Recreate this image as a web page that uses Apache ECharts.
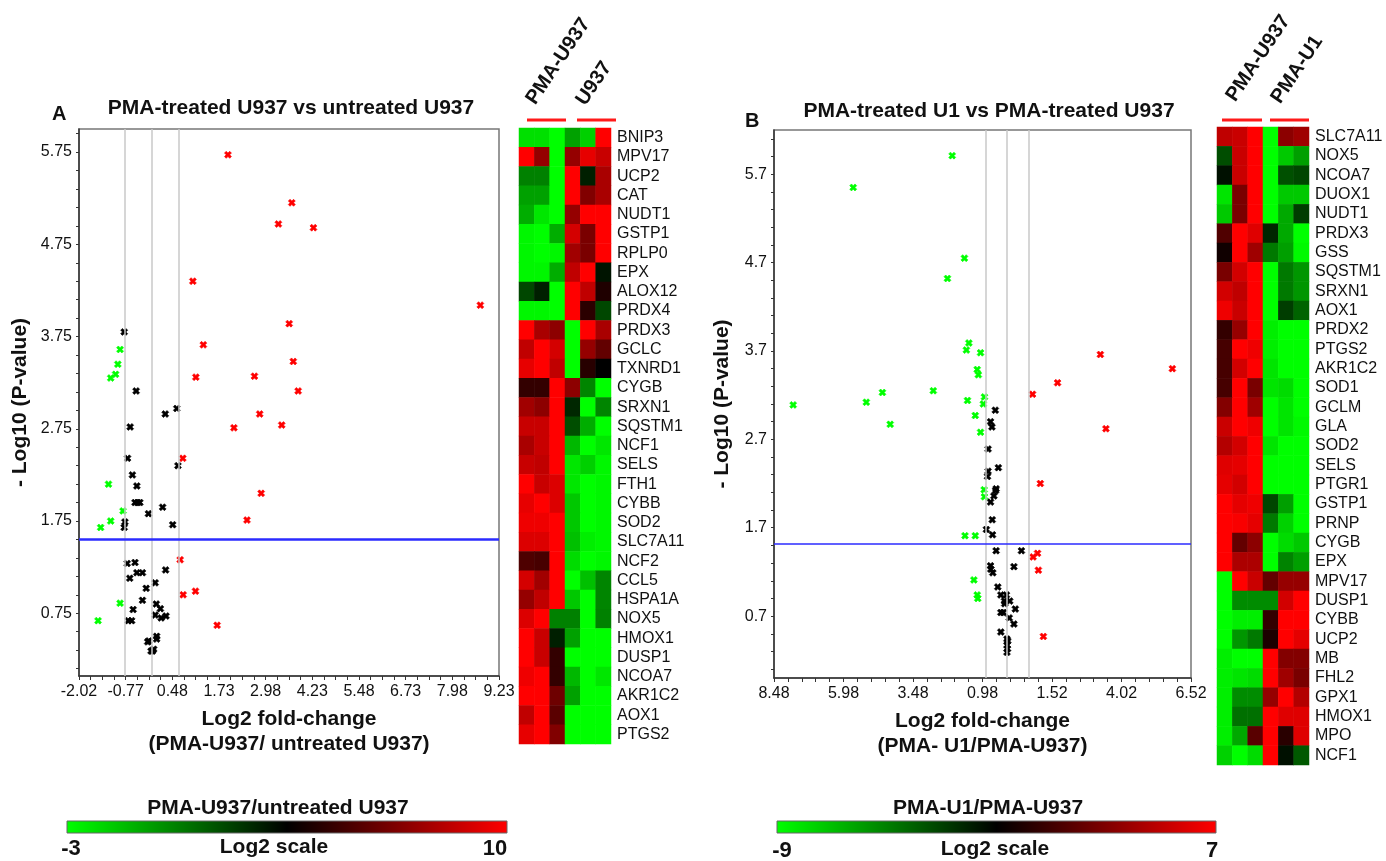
<!DOCTYPE html>
<html>
<head>
<meta charset="utf-8">
<script src="https://cdn.jsdelivr.net/npm/echarts@6/dist/echarts.min.js"></script>
<style>
  html, body { margin: 0; padding: 0; background: #fff; }
  #main { width: 1386px; height: 861px; }
</style>
</head>
<body>
<div id="main"></div>
<script>
// ---- panel A: volcano, PMA-U937 vs untreated U937 ----
var upA = [[1.97,5.72],[3.68,5.20],[3.32,4.97],[4.26,4.93],[1.03,4.35],[8.73,4.09],[3.61,3.89],
  [1.31,3.66],[3.72,3.48],[1.11,3.31],[2.68,3.32],[3.85,3.16],[2.82,2.91],[3.41,2.79],[2.13,2.76],
  [0.76,2.43],[2.86,2.05],[2.48,1.76],[0.69,1.33],[1.10,0.99],[0.77,0.95],[1.68,0.62]];
var downA = [[-0.92,3.61],[-0.98,3.45],[-1.04,3.34],[-1.17,3.30],[-1.23,2.15],[-0.84,1.86],
  [-1.17,1.75],[-1.44,1.68],[-0.92,0.86],[-1.51,0.67]];
var nsA = [[-0.81,3.80],[-0.49,3.16],[0.60,2.97],[0.29,2.91],[-0.65,2.77],[-0.72,2.43],[0.63,2.35],
  [-0.59,2.25],[-0.47,2.13],[-0.52,1.95],[-0.45,1.95],[-0.39,1.95],[0.22,1.90],[-0.16,1.83],
  [-0.79,1.74],[-0.81,1.68],[0.49,1.71],[-0.73,1.29],[-0.52,1.30],[-0.66,1.13],[-0.47,1.19],
  [-0.32,1.19],[0.30,1.22],[0.02,1.08],[-0.22,1.02],[-0.32,0.89],[0.05,0.85],[0.16,0.80],
  [-0.57,0.79],[0.02,0.73],[0.31,0.72],[0.18,0.70],[-0.70,0.67],[-0.61,0.67],[0.06,0.50],
  [0.06,0.47],[-0.15,0.45],[-0.18,0.44],[-0.02,0.36],[-0.09,0.34],[-0.05,0.34]];
var xLabelsA = [-2.02,-0.77,0.48,1.73,2.98,4.23,5.48,6.73,7.98,9.23];
var yLabelsA = [0.75,1.75,2.75,3.75,4.75,5.75];
var foldLinesA = [-0.8,-0.08,0.65];
var pLineA = 1.55;

// ---- panel B: volcano, PMA-U1 vs PMA-U937 ----
var upB = [[3.26,3.66],[5.85,3.50],[1.72,3.34],[0.82,3.21],[3.46,2.82],[1.10,2.20],[1.00,1.41],
  [0.84,1.37],[1.03,1.22],[1.21,0.47]];
var downB = [[-2.07,5.91],[-5.63,5.55],[-1.63,4.75],[-2.24,4.52],[-1.47,3.79],[-1.56,3.71],
  [-1.05,3.68],[-1.17,3.49],[-1.13,3.43],[-4.58,3.23],[-2.75,3.25],[-0.91,3.18],[-5.16,3.12],
  [-1.52,3.14],[-0.95,3.10],[-7.79,3.09],[-1.24,2.97],[-4.30,2.87],[-1.05,2.78],[-0.92,2.13],
  [-0.91,2.05],[-1.61,1.61],[-1.24,1.61],[-1.29,1.11],[-1.17,0.94],[-1.15,0.90]];
var nsB = [[-0.52,3.03],[-0.69,2.90],[-0.64,2.84],[-0.78,2.59],[-0.41,2.38],[-0.78,2.34],
  [-0.80,2.28],[-0.49,2.14],[-0.51,2.12],[-0.57,2.06],[-0.69,1.99],[-0.63,1.79],[-0.84,1.68],
  [-0.62,1.62],[-0.49,1.44],[0.42,1.44],[-0.69,1.27],[-0.68,1.23],[-0.61,1.19],[0.15,1.26],
  [-0.43,1.03],[-0.32,0.94],[-0.12,0.94],[-0.19,0.87],[-0.18,0.84],[0.00,0.87],[0.20,0.78],
  [-0.32,0.74],[-0.23,0.74],[-0.02,0.68],[0.15,0.61],[-0.32,0.52],[-0.10,0.44],[-0.07,0.42],
  [-0.10,0.37],[-0.08,0.33],[-0.10,0.29]];
var xLabelsB = [-8.48,-5.98,-3.48,-0.98,1.52,4.02,6.52];
var yLabelsB = [0.7,1.7,2.7,3.7,4.7,5.7];
var foldLinesB = [-0.85,-0.09,0.69];
var pLineB = 1.52;

// ---- heatmaps ----
var samples = ['1','2','3','4','5','6'];
var genesA = ['BNIP3','MPV17','UCP2','CAT','NUDT1','GSTP1','RPLP0','EPX','ALOX12','PRDX4','PRDX3',
  'GCLC','TXNRD1','CYGB','SRXN1','SQSTM1','NCF1','SELS','FTH1','CYBB','SOD2','SLC7A11','NCF2',
  'CCL5','HSPA1A','NOX5','HMOX1','DUSP1','NCOA7','AKR1C2','AOX1','PTGS2'];
var heatA = [
  [-2.2,-2.2,-3,-0.6,-1.8,10],
  [10,7.3,-3,7.3,9.4,8.6],
  [0.2,0.2,-3,10,2.7,7.8],
  [-0.6,-0.6,-3,10,6.8,7.8],
  [-0.9,-2.4,-3,7.3,10,10],
  [-2.8,-3,-0.9,8.9,6.6,10],
  [-2.8,-3,-2.8,7.6,6.6,10],
  [-2.8,-2.8,-0.9,8.4,10,3],
  [1.7,2.7,-3,10,8.4,4.3],
  [-2.8,-2.8,-3,10,4.6,1.7],
  [10,7.8,7.1,-3,10,7.8],
  [8.4,10,8.9,-3,7.3,6.0],
  [9.4,10,8.4,-3,4.5,3.5],
  [4.8,4.8,10,7.1,0.1,-3],
  [7.6,7.1,10,2.5,-3,0.1],
  [8.6,8.6,10,1.5,-0.9,-3],
  [7.8,8.6,10,-1.2,-3,-2.4],
  [8.6,8.4,10,-2.4,-1.8,-2.8],
  [10,8.6,9.1,-2.4,-3,-2.8],
  [9.4,10,9.1,-1.6,-3,-2.8],
  [9.6,9.6,10,-1.6,-3,-2.8],
  [9.1,9.1,10,-1.4,-2.6,-2.8],
  [5.5,5.3,10,-2.1,-3,-2.8],
  [8.9,7.6,10,-3,-1.4,0.1],
  [7.3,8.4,10,-1.6,-3,0.1],
  [9.1,10,0.2,0.2,-3,0.2],
  [10,8.6,2.7,-0.6,-3,-3],
  [10,8.6,4.8,-3,-3,-3],
  [9.6,10,4.8,-1.2,-3,-2.4],
  [10,10,6.3,-0.6,-3,-3],
  [8.4,10,5.8,-3,-3,-3],
  [9.4,10,6.8,-3,-3,-3]
];
var genesB = ['SLC7A11','NOX5','NCOA7','DUOX1','NUDT1','PRDX3','GSS','SQSTM1','SRXN1','AOX1',
  'PRDX2','PTGS2','AKR1C2','SOD1','GCLM','GLA','SOD2','SELS','PTGR1','GSTP1','PRNP','CYGB','EPX',
  'MPV17','DUSP1','CYBB','UCP2','MB','FHL2','GPX1','HMOX1','MPO','NCF1'];
var heatB = [
  [5,5.3,7,-9,3.4,4],
  [-3.4,5.3,7,-9,-7.3,-6],
  [-1.5,5.3,7,-9,-3.5,-3.2],
  [-8.2,2.8,7,-9,-7.3,-7.3],
  [-7.3,2.8,7,-9,-6.3,-2.9],
  [1.5,7,6,-2.2,-6.3,-9],
  [-0.5,7,4,-4.8,-6,-8.8],
  [2.8,5.6,7,-9,-4.8,-5.7],
  [5.6,5,7,-9,-4.8,-5.7],
  [6.5,5.3,7,-9,-2.9,-4.1],
  [0.6,3.7,7,-8.5,-9,-9],
  [1.2,7,6.5,-8.5,-9,-9],
  [1.2,5.6,7,-8.2,-9,-9],
  [1.2,7,2.8,-8.2,-7.9,-9],
  [3.1,7,4,-9,-8.2,-9],
  [5.3,7,6.5,-9,-8.2,-8.8],
  [4.6,5.6,7,-8.2,-9,-9],
  [6,6.2,7,-9,-9,-9],
  [6.2,5.6,7,-9,-9,-9],
  [7,6.2,6.5,-3.2,-6,-9],
  [7,6.8,6.2,-4.8,-7.6,-9],
  [7,2.1,3.4,-9,-7.9,-7.3],
  [7,4.4,4.4,-9,-5.1,-6],
  [-9,7,5.3,2.1,3.7,3.7],
  [-9,-5.4,-5.4,-5.4,5.6,7],
  [-9,-8.5,-8.5,0.6,7,7],
  [-9,-5.7,-4.8,-0.1,7,6.2],
  [-8.5,-9,-9,7,3.1,3.1],
  [-8.5,-8.2,-7.9,7,4,2.8],
  [-8.5,-5.4,-5.4,3.7,7,4.6],
  [-8.5,-4.5,-4.5,7,6,6],
  [-8.5,-6.3,1.8,7,0.3,6],
  [-7.6,-9,-7.9,7,-1.5,-3.8]
];
var rangeA = [-3, 10];
var rangeB = [-9, 7];

function cells(matrix) {
  var out = [];
  matrix.forEach(function (row, r) {
    row.forEach(function (v, c) { out.push([c, r, v]); });
  });
  return out;
}
function steps(from, to, step) {
  var out = [];
  for (var v = from; v <= to + 1e-9; v += step) out.push(Math.round(v * 10000) / 10000);
  return out;
}

var FONT = '"Liberation Sans", Arial, Helvetica, sans-serif';
// small asterisk-like marker, as in the original plots
var STAR = 'path://M0,2.5L2.5,0L5,2.5L7.5,0L10,2.5L7.5,5L10,7.5L7.5,10L5,7.5L2.5,10L0,7.5L2.5,5Z';
var GYR = ['#00ff00', '#000000', '#ff0000'];

function valueX(gridIndex, min, max, labels, ticks, fmt, name) {
  return {
    type: 'value', gridIndex: gridIndex, min: min, max: max,
    splitLine: { show: false },
    axisLine: { onZero: false, lineStyle: { color: '#333', width: 1.5 } },
    axisTick: { show: true, length: 4, customValues: ticks, lineStyle: { color: '#333' } },
    axisLabel: { customValues: labels, formatter: fmt, fontSize: 16, color: '#111', margin: 8, fontFamily: FONT },
    name: name, nameLocation: 'middle', nameGap: 31,
    nameTextStyle: { fontSize: 21, fontWeight: 'bold', color: '#111', lineHeight: 25, fontFamily: FONT }
  };
}
function valueY(gridIndex, min, max, labels, ticks, gap) {
  return {
    type: 'value', gridIndex: gridIndex, min: min, max: max,
    splitLine: { show: false },
    axisLine: { onZero: false, lineStyle: { color: '#333', width: 1.5 } },
    axisTick: { show: true, length: 3, customValues: ticks, lineStyle: { color: '#333' } },
    axisLabel: { customValues: labels, fontSize: 16, color: '#111', margin: 7, fontFamily: FONT },
    name: '- Log10 (P-value)', nameLocation: 'middle', nameGap: gap,
    nameTextStyle: { fontSize: 21, fontWeight: 'bold', color: '#111', fontFamily: FONT }
  };
}
function pts(gridIndex, data, color) {
  return {
    type: 'scatter', xAxisIndex: gridIndex, yAxisIndex: gridIndex, data: data,
    symbol: STAR, symbolSize: 7, z: 3,
    itemStyle: { color: color, opacity: 1, borderColor: color, borderWidth: 0.6 }
  };
}
function guides(gridIndex, folds, pval, blueWidth) {
  var lines = folds.map(function (v) { return { xAxis: v }; });
  lines.push({ yAxis: pval, lineStyle: { color: '#2b2bff', width: blueWidth, type: 'solid' } });
  return {
    type: 'line', xAxisIndex: gridIndex, yAxisIndex: gridIndex, data: [], z: 1,
    markLine: {
      silent: true, symbol: 'none', animation: false,
      label: { show: false },
      lineStyle: { color: '#c8c8c8', width: 1.5, type: 'solid' },
      data: lines
    }
  };
}
function heatAxes(gridIndex, genes) {
  return {
    x: { type: 'category', gridIndex: gridIndex, data: samples, show: false },
    y: { type: 'category', gridIndex: gridIndex, data: genes, inverse: true, position: 'right',
      axisLine: { show: false }, axisTick: { show: false },
      axisLabel: { interval: 0, fontSize: 16, color: '#111', margin: 6, fontFamily: FONT } }
  };
}
var hA = heatAxes(1, genesA), hB = heatAxes(3, genesB);

var chart = echarts.init(document.getElementById('main'));

var option = {
  backgroundColor: '#fff',
  animation: false,
  textStyle: { fontFamily: FONT },
  title: [
    { text: 'PMA-treated U937 vs untreated U937', left: 286, top: 93, textAlign: 'center',
      textStyle: { fontSize: 21, fontWeight: 'bold', color: '#111', fontFamily: FONT } },
    { text: 'PMA-treated U1 vs PMA-treated U937', left: 984, top: 96, textAlign: 'center',
      textStyle: { fontSize: 21, fontWeight: 'bold', color: '#111', fontFamily: FONT } }
  ],
  grid: [
    { left: 79, top: 129, width: 420, height: 547, show: true, borderColor: '#777', borderWidth: 1.5 },
    { left: 519, top: 128, width: 92, height: 616 },
    { left: 774, top: 130, width: 417, height: 548, show: true, borderColor: '#777', borderWidth: 1.5 },
    { left: 1217, top: 127, width: 92, height: 638 }
  ],
  xAxis: [
    valueX(0, -2.02, 9.23, xLabelsA, steps(-2.02, 9.23, 0.3125), null,
      'Log2 fold-change\n(PMA-U937/ untreated U937)'),
    hA.x,
    valueX(2, -8.48, 6.52, xLabelsB, steps(-8.48, 6.52, 0.5),
      function (v) { return Math.abs(v).toFixed(2); },
      'Log2 fold-change\n(PMA- U1/PMA-U937)'),
    hB.x
  ],
  yAxis: [
    valueY(0, 0.07, 6.0, yLabelsA, steps(0.15, 5.95, 0.2), 48),
    hA.y,
    valueY(2, 0, 6.2, yLabelsB, steps(0.1, 6.1, 0.2), 41),
    hB.y
  ],
  visualMap: [
    { show: false, seriesIndex: 4, min: rangeA[0], max: rangeA[1], inRange: { color: GYR } },
    { show: false, seriesIndex: 9, min: rangeB[0], max: rangeB[1], inRange: { color: GYR } }
  ],
  series: [
    guides(0, foldLinesA, pLineA, 2.5),
    pts(0, nsA, '#000000'),
    pts(0, downA, '#00ff00'),
    pts(0, upA, '#ff0000'),
    { type: 'heatmap', xAxisIndex: 1, yAxisIndex: 1, data: cells(heatA), itemStyle: { borderWidth: 0 } },
    guides(2, foldLinesB, pLineB, 1.5),
    pts(2, nsB, '#000000'),
    pts(2, downB, '#00ff00'),
    pts(2, upB, '#ff0000'),
    { type: 'heatmap', xAxisIndex: 3, yAxisIndex: 3, data: cells(heatB), itemStyle: { borderWidth: 0 } }
  ],
  graphic: [
    { type: 'text', left: 52, top: 104, style: { text: 'A', font: 'bold 20px ' + FONT, fill: '#111' } },
    { type: 'text', left: 745, top: 111, style: { text: 'B', font: 'bold 20px ' + FONT, fill: '#111' } },
    // heatmap column group headers
    { type: 'text', x: 539, y: 108, rotation: 0.98,
      style: { text: 'PMA-U937', font: 'bold 20px ' + FONT, fill: '#111', textAlign: 'left', textVerticalAlign: 'bottom' } },
    { type: 'text', x: 589, y: 109, rotation: 0.98,
      style: { text: 'U937', font: 'bold 20px ' + FONT, fill: '#111', textAlign: 'left', textVerticalAlign: 'bottom' } },
    { type: 'text', x: 1239, y: 105, rotation: 0.98,
      style: { text: 'PMA-U937', font: 'bold 20px ' + FONT, fill: '#111', textAlign: 'left', textVerticalAlign: 'bottom' } },
    { type: 'text', x: 1284, y: 107, rotation: 0.98,
      style: { text: 'PMA-U1', font: 'bold 20px ' + FONT, fill: '#111', textAlign: 'left', textVerticalAlign: 'bottom' } },
    { type: 'line', shape: { x1: 527, y1: 120, x2: 566, y2: 120 }, style: { stroke: '#ff1a1a', lineWidth: 3 } },
    { type: 'line', shape: { x1: 577, y1: 120, x2: 616, y2: 120 }, style: { stroke: '#ff1a1a', lineWidth: 3 } },
    { type: 'line', shape: { x1: 1222, y1: 120, x2: 1262, y2: 120 }, style: { stroke: '#ff1a1a', lineWidth: 3 } },
    { type: 'line', shape: { x1: 1270, y1: 120, x2: 1309, y2: 120 }, style: { stroke: '#ff1a1a', lineWidth: 3 } },
    // colour keys
    { type: 'rect', shape: { x: 67, y: 821, width: 440, height: 12 },
      style: { fill: new echarts.graphic.LinearGradient(0, 0, 1, 0,
        [{ offset: 0, color: GYR[0] }, { offset: 0.5, color: GYR[1] }, { offset: 1, color: GYR[2] }]),
        stroke: '#666', lineWidth: 1 } },
    { type: 'rect', shape: { x: 777, y: 821, width: 439, height: 12 },
      style: { fill: new echarts.graphic.LinearGradient(0, 0, 1, 0,
        [{ offset: 0, color: GYR[0] }, { offset: 0.5, color: GYR[1] }, { offset: 1, color: GYR[2] }]),
        stroke: '#666', lineWidth: 1 } },
    { type: 'text', x: 278, y: 808, style: { text: 'PMA-U937/untreated U937', font: 'bold 21px ' + FONT, fill: '#111', textAlign: 'center', textVerticalAlign: 'middle' } },
    { type: 'text', x: 274, y: 847, style: { text: 'Log2 scale', font: 'bold 21px ' + FONT, fill: '#111', textAlign: 'center', textVerticalAlign: 'middle' } },
    { type: 'text', x: 71, y: 849, style: { text: String(rangeA[0]), font: 'bold 22px ' + FONT, fill: '#111', textAlign: 'center', textVerticalAlign: 'middle' } },
    { type: 'text', x: 495, y: 849, style: { text: String(rangeA[1]), font: 'bold 22px ' + FONT, fill: '#111', textAlign: 'center', textVerticalAlign: 'middle' } },
    { type: 'text', x: 988, y: 808, style: { text: 'PMA-U1/PMA-U937', font: 'bold 21px ' + FONT, fill: '#111', textAlign: 'center', textVerticalAlign: 'middle' } },
    { type: 'text', x: 995, y: 849, style: { text: 'Log2 scale', font: 'bold 21px ' + FONT, fill: '#111', textAlign: 'center', textVerticalAlign: 'middle' } },
    { type: 'text', x: 782, y: 851, style: { text: String(rangeB[0]), font: 'bold 22px ' + FONT, fill: '#111', textAlign: 'center', textVerticalAlign: 'middle' } },
    { type: 'text', x: 1212, y: 851, style: { text: String(rangeB[1]), font: 'bold 22px ' + FONT, fill: '#111', textAlign: 'center', textVerticalAlign: 'middle' } }
  ]
};

chart.setOption(option);
</script>
</body>
</html>
